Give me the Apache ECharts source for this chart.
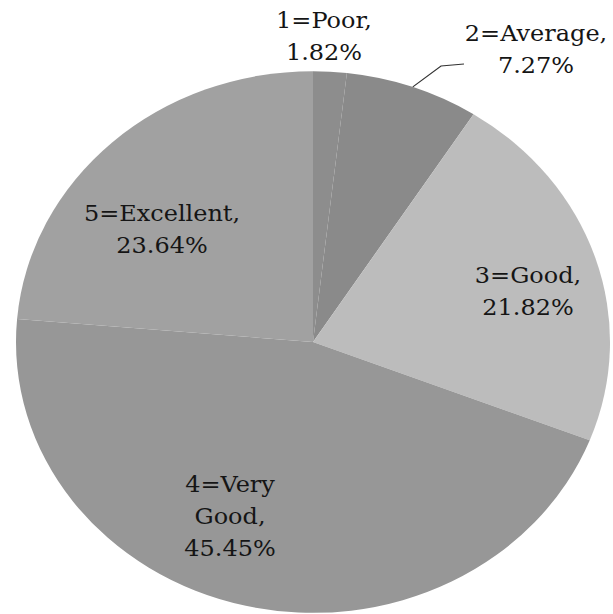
<!DOCTYPE html>
<html>
<head>
<meta charset="utf-8">
<script src="https://cdn.jsdelivr.net/npm/echarts@6/dist/echarts.min.js"></script>
<style>
html,body{margin:0;padding:0;background:#fff;overflow:hidden;}
#wrap{width:613px;height:614px;overflow:hidden;position:relative;}
#chart{width:613px;height:673px;transform:scaleY(0.912);transform-origin:0 0;}
</style>
</head>
<body>
<div id="wrap"><div id="chart"></div></div>
<script>
const categories = ['1=Poor', '2=Average', '3=Good', '4=Very\nGood', '5=Excellent'];
const values = [1.82, 7.27, 21.82, 45.45, 23.64];
const sliceColors = ['#8d8d8d', '#8a8a8a', '#bcbcbc', '#979797', '#a1a1a1'];

const SY = 0.912;
// label block centres in the photographed (final) picture
const labelPos = [[324, 36], [536, 49], [528, 291], [230, 516], [162, 229]];

const chart = echarts.init(document.getElementById('chart'), null, {renderer: 'svg'});
chart.setOption({
  animation: false,
  backgroundColor: '#ffffff',
  series: [{
    type: 'pie',
    center: [313, 342 / SY],
    radius: [0, 297],
    startAngle: 90,
    clockwise: true,
    avoidLabelOverlap: false,
    data: categories.map((c, i) => ({
      name: c, value: values[i],
      itemStyle: {color: sliceColors[i]},
      labelLine: {show: i === 1, lineStyle: {color: '#333', width: 1.2}}
    })),
    itemStyle: {borderWidth: 0},
    label: {
      show: true,
      position: 'outside',
      formatter: p => p.name + ',\n' + p.value.toFixed(2) + '%',
      fontFamily: 'DejaVu Serif',
      fontSize: 24,
      lineHeight: 35,
      color: '#151515',
      align: 'center'
    },
    labelLine: {show: true, length: 20, length2: 20},
    labelLayout: function (p) {
      const pos = labelPos[p.dataIndex];
      const out = {
        x: pos[0], y: pos[1] / SY,
        align: 'center', verticalAlign: 'middle'
      };
      if (p.dataIndex === 1 && p.labelLinePoints) {
        const s = p.labelLinePoints[0];
        out.labelLinePoints = [s, [441, 66 / SY], [464, 64 / SY]];
      }
      return out;
    }
  }]
});
</script>
</body>
</html>
